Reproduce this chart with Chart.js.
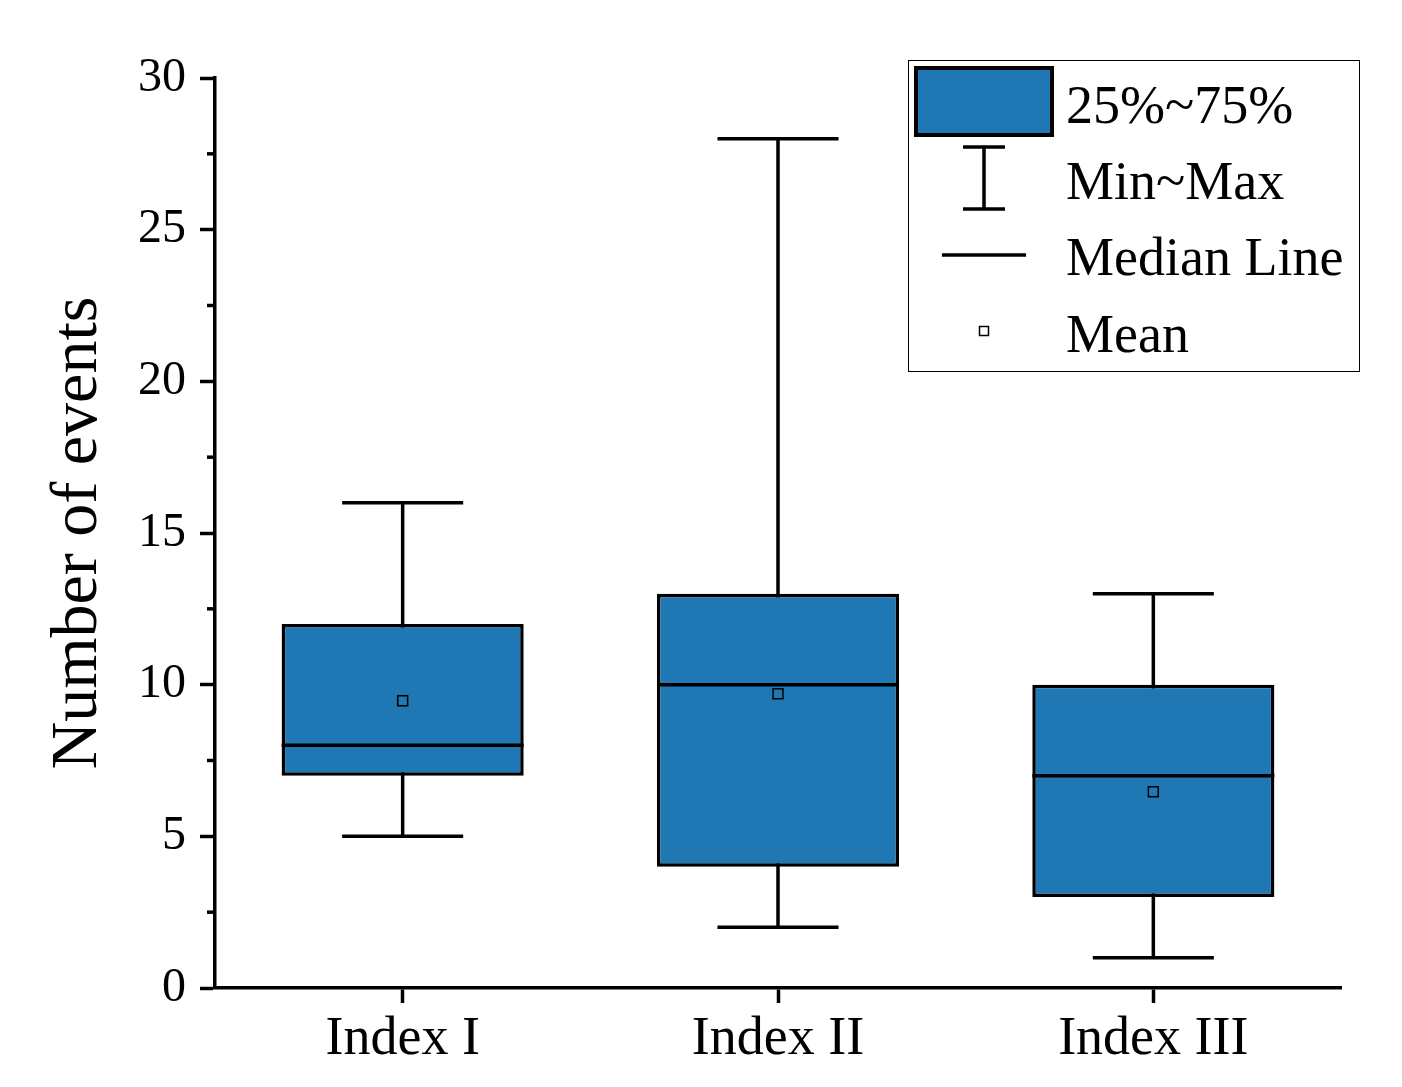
<!DOCTYPE html>
<html>
<head>
<meta charset="utf-8">
<script src="https://cdn.jsdelivr.net/npm/chart.js@4/dist/chart.umd.min.js"></script>
<style>
  html, body { margin: 0; padding: 0; background: #fff; }
  #wrap { width: 1402px; height: 1087px; }
</style>
</head>
<body>
<div id="wrap"><canvas id="box-chart"></canvas></div>
<script>
const categories = ["Index I", "Index II", "Index III"];
const minValues = [5, 2, 1];
const q1Values = [7, 4, 3];
const medianValues = [8, 10, 7];
const q3Values = [12, 13, 10];
const maxValues = [16, 28, 13];
const meanValues = [9.47, 9.7, 6.47];

const boxColor = "#1f77b4";
const serif = "'Liberation Serif', 'DejaVu Serif', serif";
const lineW = 3.5;

// Whiskers, caps and median lines, drawn from the arrays through the scales
const boxParts = {
  id: "boxParts",
  beforeDatasetsDraw(chart) {
    const { ctx, scales } = chart;
    const bars = chart.getDatasetMeta(0).data;
    ctx.save();
    ctx.strokeStyle = "#000";
    ctx.lineWidth = lineW;
    bars.forEach((bar, i) => {
      const x = bar.x;
      const capHalf = bar.width / 4;
      const yMin = scales.y.getPixelForValue(minValues[i]);
      const yMax = scales.y.getPixelForValue(maxValues[i]);
      ctx.beginPath();
      ctx.moveTo(x, yMin);
      ctx.lineTo(x, yMax);
      ctx.moveTo(x - capHalf, yMin);
      ctx.lineTo(x + capHalf, yMin);
      ctx.moveTo(x - capHalf, yMax);
      ctx.lineTo(x + capHalf, yMax);
      ctx.stroke();
    });
    ctx.restore();
  },
  afterDatasetDraw(chart, args) {
    if (args.index !== 0) return;
    const { ctx, scales } = chart;
    const bars = chart.getDatasetMeta(0).data;
    ctx.save();
    ctx.strokeStyle = "#000";
    ctx.lineWidth = lineW;
    bars.forEach((bar, i) => {
      const y = scales.y.getPixelForValue(medianValues[i]);
      ctx.beginPath();
      ctx.moveTo(bar.x - bar.width / 2, y);
      ctx.lineTo(bar.x + bar.width / 2, y);
      ctx.stroke();
    });
    ctx.restore();
  },
  afterDraw(chart) {
    const { ctx, scales } = chart;
    // minor ticks on y axis
    const y = scales.y;
    ctx.save();
    ctx.strokeStyle = "#000";
    ctx.lineWidth = lineW;
    y.ticks.forEach((t) => {
      if (t.value % 5 !== 0) {
        const py = y.getPixelForValue(t.value);
        ctx.beginPath();
        ctx.moveTo(y.right - 8, py);
        ctx.lineTo(y.right, py);
        ctx.stroke();
      }
    });

    // legend
    ctx.lineWidth = 1;
    ctx.strokeRect(908.5, 60.5, 451, 311);

    ctx.fillStyle = boxColor;
    ctx.fillRect(916, 68, 136, 67);
    ctx.lineWidth = 4;
    ctx.strokeRect(916, 68, 136, 67);

    ctx.lineWidth = lineW;
    ctx.beginPath();
    ctx.moveTo(984, 147);
    ctx.lineTo(984, 209);
    ctx.moveTo(963, 147);
    ctx.lineTo(1005, 147);
    ctx.moveTo(963, 209);
    ctx.lineTo(1005, 209);
    ctx.moveTo(942, 255);
    ctx.lineTo(1026, 255);
    ctx.stroke();

    ctx.lineWidth = 1.5;
    ctx.strokeRect(979.5, 326.5, 9, 9);

    ctx.fillStyle = "#000";
    ctx.font = "54px " + serif;
    ctx.textBaseline = "alphabetic";
    ctx.textAlign = "left";
    ctx.fillText("25%~75%", 1066, 123);
    ctx.fillText("Min~Max", 1066, 199);
    ctx.fillText("Median Line", 1066, 275);
    ctx.fillText("Mean", 1066, 352);
    ctx.restore();
  },
};

const ctx = document.getElementById("box-chart");

new Chart(ctx, {
  type: "bar",
  data: {
    labels: categories,
    datasets: [
      {
        label: "25%~75%",
        data: q1Values.map((q1, i) => [q1, q3Values[i]]),
        backgroundColor: boxColor,
        borderColor: "#000",
        borderWidth: lineW,
        borderSkipped: false,
        barPercentage: 0.645,
        categoryPercentage: 1,
        grouped: false,
        order: 2,
      },
      {
        type: "line",
        label: "Mean",
        data: meanValues,
        showLine: false,
        pointStyle: "rect",
        pointRadius: 7,
        pointHoverRadius: 7,
        pointBorderWidth: 1.5,
        pointBorderColor: "#000",
        pointBackgroundColor: "rgba(0, 0, 0, 0)",
        order: 1,
      },
    ],
  },
  options: {
    responsive: true,
    maintainAspectRatio: false,
    animation: false,
    devicePixelRatio: 1,
    layout: {
      padding: { left: 15, right: 61, top: 78, bottom: 0 },
    },
    plugins: {
      legend: { display: false },
      tooltip: { enabled: false },
    },
    scales: {
      x: {
        offset: true,
        afterFit: (s) => { s.height = 99; },
        grid: {
          offset: false,
          drawOnChartArea: false,
          tickLength: 15,
          tickWidth: lineW,
          tickColor: "#000",
        },
        border: { color: "#000", width: lineW },
        ticks: {
          color: "#000",
          padding: 4,
          font: { family: serif, size: 54 },
        },
      },
      y: {
        min: 0,
        max: 30,
        afterFit: (s) => { s.width = 200; },
        grid: {
          drawOnChartArea: false,
          tickLength: 15,
          tickWidth: lineW,
          tickColor: (c) => (c.tick && c.tick.value % 5 === 0 ? "#000" : "rgba(0,0,0,0)"),
        },
        border: { color: "#000", width: lineW },
        ticks: {
          stepSize: 2.5,
          autoSkip: false,
          color: "#000",
          padding: 14,
          font: { family: serif, size: 48 },
          callback: (v) => (v % 5 === 0 ? v : ""),
        },
        title: {
          display: true,
          text: "Number of events",
          color: "#000",
          padding: { top: 24, bottom: 0 },
          font: { family: serif, size: 66, weight: "normal" },
        },
      },
    },
  },
  plugins: [boxParts],
});
</script>
</body>
</html>
